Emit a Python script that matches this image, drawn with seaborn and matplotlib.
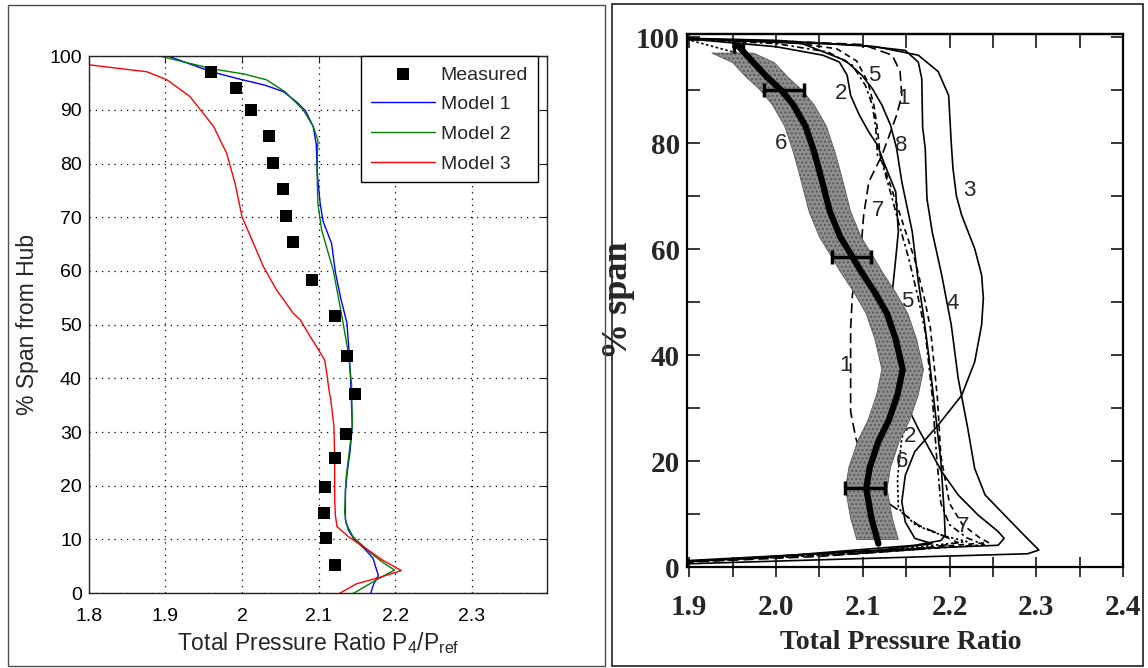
import matplotlib
matplotlib.use("Agg")
import matplotlib.pyplot as plt
import seaborn as sns
from matplotlib.patches import Rectangle

sns.set_style("white")
plt.rcParams["font.family"] = ["Liberation Sans", "DejaVu Sans"]
plt.rcParams["mathtext.fontset"] = "custom"
plt.rcParams["mathtext.rm"] = "Liberation Sans"
plt.rcParams["mathtext.it"] = "Liberation Sans:italic"

# ---------------- left panel: measured profile and three models ----------------
meas_span = [97.0, 94.1, 90.0, 85.1, 80.1, 75.3, 70.3, 65.4, 58.3, 51.6, 44.2, 37.1,
             29.6, 25.2, 19.8, 14.9, 10.2, 5.2]
meas_ratio = [1.960, 1.992, 2.012, 2.035, 2.041, 2.053, 2.057, 2.067, 2.092, 2.121, 2.137, 2.148,
              2.136, 2.121, 2.109, 2.107, 2.110, 2.121]

m1_span = [100, 97.1, 95.8, 94.6, 93.4, 91.4, 89.8, 86.9, 83.5, 78.7, 72.6, 69.2, 65.1, 59.7, 54.9,
           50.3, 44.6, 39.0, 31.1, 26.3, 23.2, 19.2, 13.7, 11.7, 10.1, 8.1, 6.5, 3.3, 1.7, 0]
m1_ratio = [1.904, 1.960, 1.995, 2.030, 2.054, 2.072, 2.083, 2.093, 2.097, 2.098, 2.102, 2.106, 2.117,
            2.122, 2.129, 2.137, 2.140, 2.142, 2.144, 2.141, 2.138, 2.135, 2.135, 2.139, 2.146, 2.161,
            2.171, 2.178, 2.172, 2.168]

m2_span = [100, 97.6, 96.7, 95.6, 93.4, 90.0, 86.9, 84.4, 78.7, 72.6, 67.6, 60.2, 56.5, 50.3, 44.6,
           39.0, 31.1, 26.3, 21.6, 15.2, 12.9, 10.5, 7.7, 5.7, 4.3, 2.5, 0]
m2_ratio = [1.893, 1.963, 2.002, 2.032, 2.056, 2.080, 2.093, 2.099, 2.098, 2.099, 2.104, 2.119, 2.124,
            2.132, 2.139, 2.143, 2.144, 2.140, 2.136, 2.134, 2.136, 2.145, 2.166, 2.184, 2.199, 2.176,
            2.146]

m3_span = [98.4, 97.8, 97.1, 95.6, 92.5, 86.9, 81.9, 76.3, 70.1, 65.8, 60.8, 56.5, 52.1, 50.9, 47.8,
           45.3, 43.4, 40.6, 38.4, 35.9, 31.1, 25.4, 17.3, 14.4, 12.4, 10.5, 8.1, 6.1, 4.2, 2.9, 1.7, 0]
m3_ratio = [1.800, 1.835, 1.876, 1.902, 1.932, 1.963, 1.980, 1.991, 2.000, 2.013, 2.028, 2.045, 2.067,
            2.076, 2.089, 2.100, 2.108, 2.111, 2.113, 2.116, 2.120, 2.121, 2.121, 2.122, 2.124, 2.139,
            2.164, 2.184, 2.208, 2.179, 2.149, 2.128]

left_xticks = [1.8, 1.9, 2.0, 2.1, 2.2, 2.3]
left_xlabels = ["1.8", "1.9", "2", "2.1", "2.2", "2.3"]
left_yticks = list(range(0, 101, 10))

# ---------------- right panel: eight computed profiles and measured band ----------------
c1_span = [99.5, 99.3, 98.6, 96.6, 93.5, 89.0, 85.3, 82.1, 77.7, 72.7, 66.4, 60.1, 55.0, 51.3, 45.0,
           38.7, 29.3, 24.3, 18.0, 12.0, 9.8, 7.9, 6.0, 4.6, 3.4, 2.0, 0.9]
c1_ratio = [1.897, 2.000, 2.100, 2.134, 2.143, 2.145, 2.139, 2.132, 2.122, 2.107, 2.101, 2.098, 2.092,
            2.088, 2.086, 2.086, 2.086, 2.092, 2.105, 2.130, 2.149, 2.164, 2.191, 2.210, 2.170, 2.050,
            1.897]

c2_span = [99.7, 98.2, 96.6, 95.3, 92.8, 89.0, 85.3, 82.1, 79.6, 76.5, 70.8, 63.3, 58.2, 51.9, 45.7,
           41.3, 33.7, 26.1, 18.0, 13.6, 9.8, 6.7, 5.4, 4.1, 3.5, 1.2]
c2_ratio = [1.897, 2.000, 2.054, 2.073, 2.082, 2.086, 2.096, 2.107, 2.117, 2.124, 2.138, 2.141, 2.138,
            2.134, 2.132, 2.134, 2.141, 2.164, 2.191, 2.210, 2.233, 2.256, 2.263, 2.256, 2.164, 1.897]

c3_span = [99.8, 99.4, 98.2, 96.6, 93.5, 89.0, 80.0, 75.2, 70.0, 66.4, 60.1, 55.1, 50.7, 45.7, 38.7,
           32.4, 26.8, 21.8, 17.3, 12.3, 8.5, 5.4, 4.4, 3.2, 1.0]
c3_ratio = [1.897, 2.000, 2.115, 2.164, 2.187, 2.199, 2.202, 2.204, 2.208, 2.214, 2.229, 2.237, 2.239,
            2.237, 2.229, 2.214, 2.187, 2.160, 2.149, 2.145, 2.149, 2.160, 2.180, 2.120, 1.897]

c4_span = [99.8, 98.5, 97.5, 95.3, 92.2, 83.0, 79.0, 69.5, 63.3, 55.1, 45.7, 35.6, 26.2, 18.6, 13.6,
           9.2, 6.0, 3.2, 2.5, 1.6, 0.6]
c4_ratio = [1.897, 2.096, 2.149, 2.164, 2.168, 2.169, 2.172, 2.174, 2.180, 2.191, 2.202, 2.210, 2.221,
            2.229, 2.241, 2.267, 2.286, 2.303, 2.290, 2.100, 1.897]

c5_span = [99.6, 98.8, 97.2, 94.7, 90.9, 87.2, 82.8, 77.7, 76.5, 69.5, 65.2, 58.2, 50.7, 44.4, 32.4,
           21.1, 12.0, 8.0, 5.5, 4.2, 2.6, 1.0]
c5_ratio = [1.897, 2.000, 2.060, 2.088, 2.103, 2.111, 2.115, 2.117, 2.122, 2.134, 2.141, 2.153, 2.164,
            2.172, 2.180, 2.185, 2.190, 2.200, 2.220, 2.240, 2.100, 1.897]

c6_span = [99.6, 97.0, 93.0, 88.0, 83.0, 76.0, 68.0, 61.0, 55.0, 48.0, 40.0, 32.4, 24.3, 16.7, 11.1,
           7.9, 6.0, 4.8, 2.6, 1.0]
c6_ratio = [1.897, 1.955, 1.985, 2.005, 2.018, 2.032, 2.048, 2.068, 2.092, 2.125, 2.160, 2.161, 2.145,
            2.140, 2.141, 2.161, 2.191, 2.220, 2.100, 1.897]

c7_span = [99.6, 99.0, 97.8, 95.5, 91.5, 87.0, 82.5, 77.7, 72.0, 65.0, 58.0, 50.0, 45.0, 32.0, 21.0,
           12.0, 8.0, 5.5, 4.6, 3.0, 1.1]
c7_ratio = [1.897, 2.020, 2.070, 2.093, 2.106, 2.113, 2.117, 2.120, 2.132, 2.146, 2.160, 2.172, 2.178,
            2.186, 2.190, 2.200, 2.215, 2.235, 2.245, 2.120, 1.897]

c8_span = [99.8, 98.8, 95.6, 92.8, 90.3, 87.2, 83.4, 79.0, 72.7, 63.3, 53.8, 47.5, 40.0, 30.0, 20.0,
           10.0, 6.0, 5.0, 4.1, 2.0, 1.0]
c8_ratio = [1.897, 2.030, 2.080, 2.099, 2.111, 2.122, 2.132, 2.139, 2.145, 2.157, 2.164, 2.170, 2.176,
            2.183, 2.190, 2.194, 2.195, 2.190, 2.160, 2.000, 1.897]

exp_span = [98.4, 95.2, 92.4, 90.0, 87.2, 83.2, 78.3, 73.5, 67.1, 62.3, 59.1, 55.8, 51.8, 47.8, 43.0,
            37.3, 32.5, 27.7, 23.7, 18.8, 14.8, 9.2, 4.4]
exp_ratio = [1.956, 1.974, 1.990, 2.006, 2.020, 2.034, 2.044, 2.052, 2.062, 2.074, 2.086, 2.098, 2.114,
             2.128, 2.138, 2.146, 2.140, 2.130, 2.118, 2.108, 2.104, 2.110, 2.118]

band_span = [97.0, 95.2, 92.4, 90.0, 87.2, 83.2, 78.3, 73.5, 67.1, 62.3, 59.1, 55.8, 51.8, 47.8, 43.0,
             37.3, 32.5, 27.7, 23.7, 18.8, 14.8, 9.2, 5.2]
band_center = [1.950, 1.974, 1.990, 2.006, 2.020, 2.034, 2.044, 2.052, 2.062, 2.074, 2.086, 2.098,
               2.114, 2.128, 2.138, 2.146, 2.140, 2.130, 2.118, 2.108, 2.104, 2.110, 2.117]
band_halfwidth = 0.024

err_span = [98.3, 90.0, 58.5, 15.0]
err_center = [1.957, 2.009, 2.087, 2.103]
err_half = [0.005, 0.023, 0.023, 0.023]

curve_tags = ["5", "2", "1", "6", "8", "3", "7", "5", "4", "1", "2", "6", "7"]
tag_ratio = [2.113, 2.075, 2.147, 2.006, 2.144, 2.223, 2.118, 2.151, 2.204, 2.080, 2.155, 2.145, 2.216]
tag_span = [92.8, 89.4, 88.4, 79.9, 79.6, 71.1, 67.3, 50.1, 49.7, 38.1, 24.6, 19.9, 7.6]

right_xticks = [1.90, 1.95, 2.00, 2.05, 2.10, 2.15, 2.20, 2.25, 2.30, 2.35, 2.40]
right_xlabels = ["1.9", "", "2.0", "", "2.1", "", "2.2", "", "2.3", "", "2.4"]
right_yticks = list(range(0, 101, 10))
right_ylabels = ["0", "", "20", "", "40", "", "60", "", "80", "", "100"]

W, H = 1148, 668
fig = plt.figure(figsize=(W / 100, H / 100), dpi=100)
fig.patch.set_facecolor("white")

# panel frames
fig.add_artist(Rectangle((7.5 / W, 2 / H), 597.5 / W, 661 / H, transform=fig.transFigure,
                         fill=False, edgecolor="#4d4d4d", lw=1.0))
fig.add_artist(Rectangle((612 / W, 2 / H), 531 / W, 662 / H, transform=fig.transFigure,
                         fill=False, edgecolor="#202020", lw=1.2))

# ---------------- left axes ----------------
ax1 = fig.add_axes([88.8 / W, 1 - 593.1 / H, 458.5 / W, 536.9 / H])
sns.scatterplot(x=meas_ratio, y=meas_span, marker="s", s=68, color="black", edgecolor="black",
                linewidth=0, label="Measured", ax=ax1, zorder=4)
sns.lineplot(x=m1_ratio, y=m1_span, sort=False, estimator=None, color="#0000ff", lw=1.0,
             label="Model 1", ax=ax1)
sns.lineplot(x=m2_ratio, y=m2_span, sort=False, estimator=None, color="#008000", lw=1.0,
             label="Model 2", ax=ax1)
sns.lineplot(x=m3_ratio, y=m3_span, sort=False, estimator=None, color="#ff0000", lw=1.0,
             label="Model 3", ax=ax1)
ax1.set_xlim(1.8, 2.3986)
ax1.set_ylim(0, 100)
ax1.set_xticks(left_xticks, labels=left_xlabels)
ax1.set_yticks(left_yticks)
ax1.tick_params(direction="in", top=True, right=True, length=5, width=0.8, labelsize=14,
                colors="#222222", labelcolor="black")
ax1.tick_params(axis="x", pad=11)
ax1.tick_params(axis="y", pad=5)
ax1.grid(True, linestyle=(0, (1, 4)), color="black", lw=0.9)
for sp in ax1.spines.values():
    sp.set_color("#222222")
    sp.set_linewidth(1.0)
ax1.set_xlabel(r"Total Pressure Ratio P$_4$/P$_{\mathrm{ref}}$", fontsize=16.5)
ax1.set_ylabel("% Span from Hub", fontsize=16.5)
ax1.xaxis.set_label_coords(0.5, -0.069)
ax1.yaxis.set_label_coords(-0.108, 0.5)
leg = ax1.legend(loc="upper right", bbox_to_anchor=(1 - 9.7 / 458.5, 1.0), borderaxespad=0,
                 fontsize=14, handlelength=3.3, handletextpad=0.3, labelspacing=0.62,
                 borderpad=0.5, fancybox=False, framealpha=1, edgecolor="black")
leg.get_frame().set_linewidth(1.0)

# ---------------- right axes ----------------
ax2 = fig.add_axes([686.7 / W, 1 - 567 / H, 436.3 / W, 533 / H])
solid = "-"
thin = 1.2
sns.lineplot(x=c3_ratio, y=c3_span, sort=False, estimator=None, color="black", lw=thin,
             linestyle=solid, ax=ax2)
sns.lineplot(x=c4_ratio, y=c4_span, sort=False, estimator=None, color="black", lw=thin,
             linestyle=solid, ax=ax2)
sns.lineplot(x=c8_ratio, y=c8_span, sort=False, estimator=None, color="black", lw=thin,
             linestyle=solid, ax=ax2)
sns.lineplot(x=c2_ratio, y=c2_span, sort=False, estimator=None, color="black", lw=thin,
             linestyle=solid, ax=ax2)
sns.lineplot(x=c1_ratio, y=c1_span, sort=False, estimator=None, color="black", lw=thin,
             linestyle=(0, (6, 3)), ax=ax2)
sns.lineplot(x=c5_ratio, y=c5_span, sort=False, estimator=None, color="black", lw=thin,
             linestyle=(0, (4, 2, 1.5, 2)), ax=ax2)
sns.lineplot(x=c7_ratio, y=c7_span, sort=False, estimator=None, color="black", lw=thin,
             linestyle=(0, (3.5, 2.5)), ax=ax2)
sns.lineplot(x=c6_ratio, y=c6_span, sort=False, estimator=None, color="black", lw=thin,
             linestyle=(0, (1.5, 1.5)), ax=ax2)

# measured uncertainty band, mean line and error bars
lo = [c - band_halfwidth for c in band_center]
hi = [c + band_halfwidth for c in band_center]
ax2.fill_betweenx(band_span, lo, hi, facecolor="#8e8e8e", edgecolor="#5a5a5a", lw=0.6,
                  hatch="....", zorder=3)
sns.lineplot(x=exp_ratio, y=exp_span, sort=False, estimator=None, color="black", lw=4.5,
             ax=ax2, zorder=4)
ax2.errorbar(err_center, err_span, xerr=err_half, fmt="none", ecolor="black", elinewidth=2.5,
             capsize=5, capthick=2.5, zorder=5)

for t, xv, yv in zip(curve_tags, tag_ratio, tag_span):
    ax2.text(xv, yv, t, fontsize=16, ha="center", va="center", family="Liberation Sans",
             zorder=6)

ax2.set_xlim(1.897, 2.397)
ax2.set_ylim(0, 100.6)
serif = dict(fontfamily="Liberation Serif", fontweight="bold", fontsize=21)
ax2.set_xticks(right_xticks, labels=right_xlabels, **serif)
ax2.set_yticks(right_yticks, labels=right_ylabels, **serif)
ax2.tick_params(axis="x", direction="inout", length=15, width=1.3, bottom=True, top=False, pad=12)
ax2.tick_params(axis="y", direction="in", length=9, width=1.3, left=True, right=True, pad=5)
top = ax2.secondary_xaxis("top")
top.set_xticks(right_xticks)
top.tick_params(direction="in", length=10, width=1.3, labeltop=False)
top.spines["top"].set_linewidth(1.6)
for sp in ax2.spines.values():
    sp.set_color("black")
    sp.set_linewidth(1.6)
ax2.set_xlabel("Total Pressure Ratio", fontfamily="Liberation Serif", fontweight="bold",
               fontsize=20)
ax2.set_ylabel("% span", fontfamily="Liberation Serif", fontweight="bold", fontsize=26)
ax2.xaxis.set_label_coords(0.49, -0.118)
ax2.xaxis.label.set_va("top")
ax2.yaxis.set_label_coords(-0.1185, 0.5)

fig.savefig("out.png", dpi=100, facecolor="white")
